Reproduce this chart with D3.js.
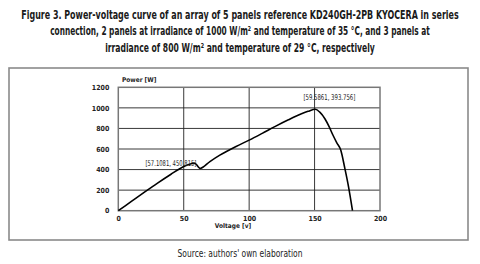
<!DOCTYPE html>
<html><head><meta charset="utf-8">
<script src="https://cdn.jsdelivr.net/npm/d3@7"></script>
<style>body{margin:0;background:#fff}svg{display:block}text{font-family:"DejaVu Sans Condensed","Liberation Sans",sans-serif}</style>
</head><body>
<script>
const titleLines = [
  "Figure 3. Power-voltage curve of an array of 5 panels reference KD240GH-2PB KYOCERA in series",
  "connection, 2 panels at irradiance of 1000 W/m\u00b2 and temperature of 35 \u00b0C, and 3 panels at",
  "irradiance of 800 W/m\u00b2 and temperature of 29 \u00b0C, respectively"
];
const sourceText = "Source: authors' own elaboration";
const xTicks = [0, 50, 100, 150, 200];
const yTicks = [0, 200, 400, 600, 800, 1000, 1200];
const voltage = [0, 10, 20, 30, 40, 50, 55, 57.8, 59.5, 61, 62.4, 70, 77.6, 90, 100, 110, 120, 130, 140, 145, 150.6, 154, 158, 161, 164, 167, 170, 173, 176, 179];
const power   = [0, 90, 180, 268, 352, 430, 455, 463, 452, 428, 411, 478, 540, 625, 686, 752, 820, 884, 942, 966, 986, 958, 892, 820, 736, 660, 590, 420, 230, 0];
const annotations = [
  {v: 57.8, p: 463, label: "[57.1081, 450.815]"},
  {v: 150.6, p: 986, label: "[59.5861, 393.756]"}
];

const W = 480, H = 264;
const svg = d3.select("body").append("svg").attr("width", W).attr("height", H);

// place a text centred at (cx, by) squeezed horizontally to a target width
function squeezed(parent, str, cx, by, size, weight, width) {
  const grp = parent.append("g");
  const t = grp.append("text").attr("text-anchor", "middle").attr("font-size", size)
    .attr("font-weight", weight).attr("fill", "#1a1a1a").text(str);
  const natural = t.node().getComputedTextLength();
  const sx = Math.min(1, width / natural);
  grp.attr("transform", `translate(${cx},${by}) scale(${sx},1)`);
  return t;
}

const titleWidths = [438, 380, 270];
titleLines.forEach((t, i) => squeezed(svg, t, 240, 18.5 + i * 16.8, 12, "bold", titleWidths[i]));

svg.append("rect").attr("x", 9).attr("y", 68).attr("width", 459).attr("height", 172)
  .attr("fill", "none").attr("stroke", "#8a8a8a").attr("stroke-width", 1.6);

const x = d3.scaleLinear().domain([0, 200]).range([118.3, 380]);
const y = d3.scaleLinear().domain([0, 1200]).range([210.7, 87.3]);

const g = svg.append("g");
g.append("g").selectAll("line").data(xTicks.slice(1, -1)).join("line")
  .attr("x1", d => x(d)).attr("x2", d => x(d)).attr("y1", y(0)).attr("y2", y(1200))
  .attr("stroke", "#222").attr("stroke-width", 0.9);
g.append("g").selectAll("line").data(yTicks.slice(1, -1)).join("line")
  .attr("x1", x(0)).attr("x2", x(200)).attr("y1", d => y(d)).attr("y2", d => y(d))
  .attr("stroke", "#222").attr("stroke-width", 0.9);
g.append("rect").attr("x", x(0)).attr("y", y(1200)).attr("width", x(200) - x(0)).attr("height", y(0) - y(1200))
  .attr("fill", "none").attr("stroke", "#777").attr("stroke-width", 1.5);

const fmt = d3.format("d");
const xAxis = d3.axisBottom(x).tickValues(xTicks).tickFormat(fmt).tickSize(0).tickPadding(5);
const xa = g.append("g").attr("transform", `translate(0,${y(0)})`).call(xAxis);
xa.select(".domain").remove();
xa.selectAll("text").attr("font-size", 7).attr("font-weight", "bold").attr("fill", "#222")
  .attr("font-family", "'DejaVu Sans Condensed',sans-serif");
const yAxis = d3.axisLeft(y).tickValues(yTicks).tickFormat(fmt).tickSize(0).tickPadding(9);
const ya = g.append("g").attr("transform", `translate(${x(0)},0)`).call(yAxis);
ya.select(".domain").remove();
ya.selectAll("text").attr("font-size", 7).attr("font-weight", "bold").attr("fill", "#222")
  .attr("font-family", "'DejaVu Sans Condensed',sans-serif");

svg.append("text").attr("x", 122).attr("y", 82).attr("font-size", 6.5).attr("font-weight", "bold")
  .attr("fill", "#222").text("Power [W]");
svg.append("text").attr("x", 233).attr("y", 228).attr("text-anchor", "middle").attr("font-size", 6.5)
  .attr("font-weight", "bold").attr("fill", "#222").text("Voltage [v]");

const pts = voltage.map((v, i) => [v, power[i]]);
const line = d3.line().x(d => x(d[0])).y(d => y(d[1])).curve(d3.curveMonotoneX);
g.append("path").attr("d", line(pts)).attr("fill", "none").attr("stroke", "#000").attr("stroke-width", 1.6);

const annOffsets = [[-23, 3], [14, -9.5]];
const annWidths = [51, 52];
annotations.forEach((a, i) => {
  squeezed(svg, a.label, x(a.v) + annOffsets[i][0], y(a.p) + annOffsets[i][1], 8, "normal", annWidths[i])
    .attr("fill", "#222");
});

squeezed(svg, sourceText, 240, 257, 10, "normal", 125).attr("fill", "#222");
</script>
</body></html>
